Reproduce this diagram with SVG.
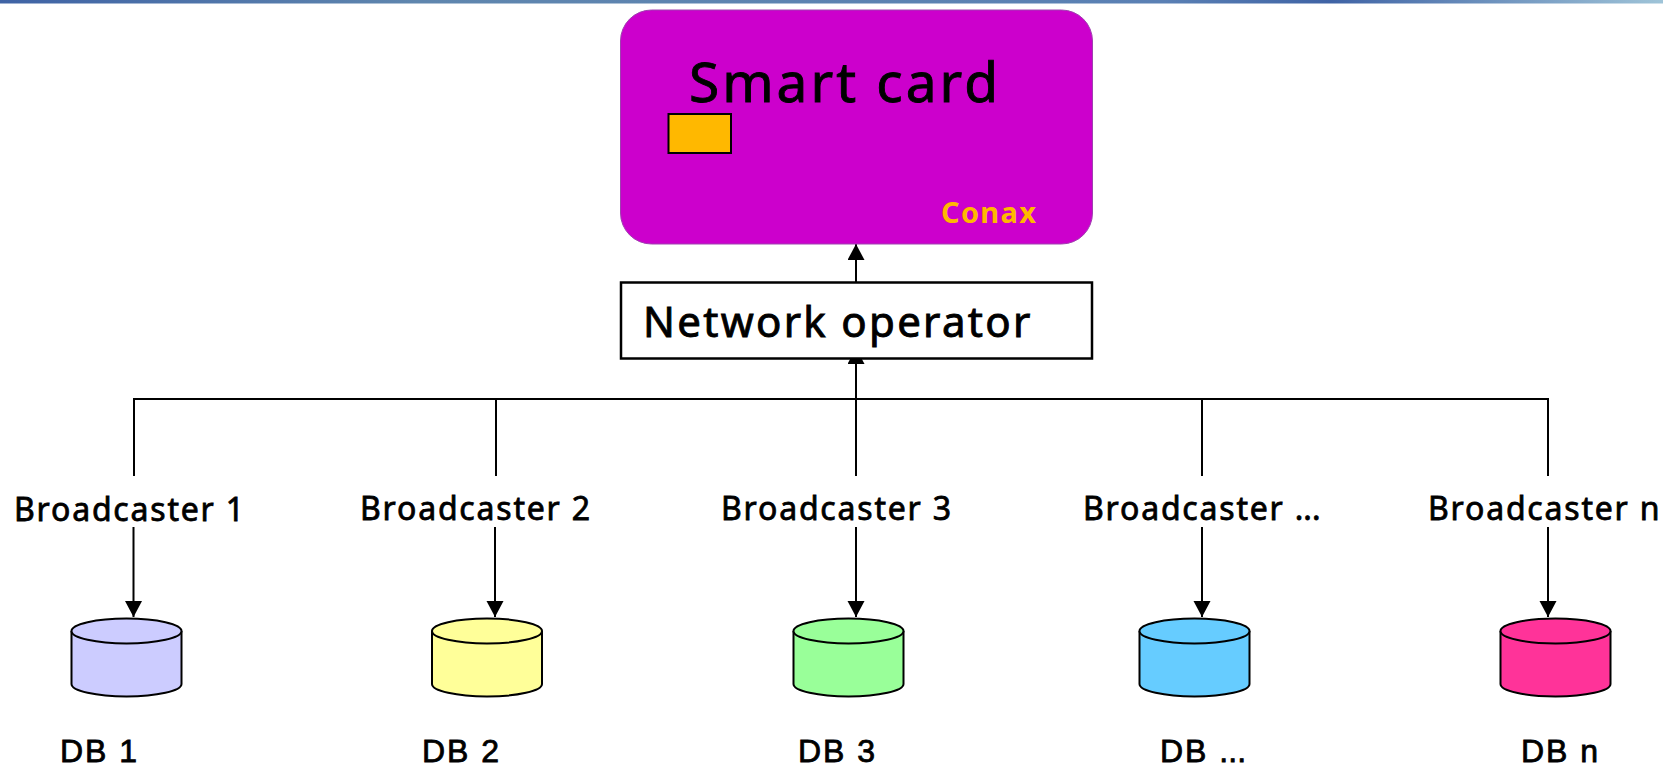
<svg xmlns="http://www.w3.org/2000/svg" width="1663" height="768" viewBox="0 0 1663 768">
<style>
text{font-family:"Noto Sans","DejaVu Sans",sans-serif;fill:#000}
.l{font-size:32px;letter-spacing:1.800px;stroke:#000;stroke-width:.8px}
.d{font-family:"Liberation Sans",Arial,sans-serif;font-size:32px;letter-spacing:2px;stroke:#000;stroke-width:.8px}
.c{fill:none;stroke:#000;stroke-width:2}
.db{stroke:#000;stroke-width:2}
.e{letter-spacing:0}
</style>
<defs>
<linearGradient id="band" x1="0" x2="1" y1="0" y2="0"><stop offset="0" stop-color="#3f63a5"/><stop offset=".25" stop-color="#5f86ae"/><stop offset=".7" stop-color="#5a80b4"/><stop offset=".8" stop-color="#3f63a5"/><stop offset="1" stop-color="#9fc4d8"/></linearGradient>
<marker id="a" markerUnits="userSpaceOnUse" markerWidth="18" markerHeight="18" refX="16" refY="8.500" orient="auto"><path d="M0 0L16 8.500L0 17z" fill="#000"/></marker>
<symbol id="cyl" overflow="visible"><path d="M0 12.500V65.500A55 12.500 0 0 0 110 65.500V12.500"/><ellipse cx="55" cy="12.500" rx="55" ry="12.500"/></symbol>
</defs>
<rect width="1663" height="768" fill="#fff"/>
<rect id="top-band" width="1663" height="3.500" fill="url(#band)"/>
<g id="connectors">
<path class="c" d="M134 476V399H1548V476M496 399V476M1202 399V476M856 399V476"/>
<path class="c" marker-end="url(#a)" d="M856 399V348"/>
<path class="c" marker-end="url(#a)" d="M856 283V244"/>
<path class="c" marker-end="url(#a)" d="M133.500 527V617"/>
<path class="c" marker-end="url(#a)" d="M495 527V617"/>
<path class="c" marker-end="url(#a)" d="M856 527V617"/>
<path class="c" marker-end="url(#a)" d="M1202 527V617"/>
<path class="c" marker-end="url(#a)" d="M1548 527V617"/>
</g>
<g id="smart-card">
<rect x="620.500" y="10" width="472" height="234" rx="31" fill="#cc00cc" stroke="#a040b0" stroke-width="1"/>
<text x="689" y="102" font-size="55" letter-spacing="3" style="stroke:#000;stroke-width:.9px">Smart card</text>
<rect x="668.500" y="114" width="62.500" height="39" fill="#ffb800" stroke="#000" stroke-width="2"/>
<text x="941" y="223" font-size="29" font-weight="700" letter-spacing="1.300" style="fill:#ffb800">Conax</text>
</g>
<g id="network-operator">
<rect x="621" y="282.500" width="471" height="76" fill="#fff" stroke="#000" stroke-width="2.500"/>
<text x="643" y="337" font-size="42" letter-spacing="2.300" style="stroke:#000;stroke-width:.9px">Network operator</text>
</g>
<g id="broadcaster-1"><text class="l" x="14" y="521">Broadcaster 1</text></g>
<g id="broadcaster-2"><text class="l" x="360" y="520">Broadcaster 2</text></g>
<g id="broadcaster-3"><text class="l" x="721" y="520">Broadcaster 3</text></g>
<g id="broadcaster-4"><text class="l" x="1083" y="520">Broadcaster <tspan class="e">...</tspan></text></g>
<g id="broadcaster-n"><text class="l" x="1428" y="520">Broadcaster n</text></g>
<g id="db-1"><use href="#cyl" x="71.500" y="618.500" class="db" fill="#ccccff"/><text class="d" x="60" y="761.500">DB 1</text></g>
<g id="db-2"><use href="#cyl" x="432" y="618.500" class="db" fill="#ffff99"/><text class="d" x="422" y="761.500">DB 2</text></g>
<g id="db-3"><use href="#cyl" x="793.500" y="618.500" class="db" fill="#99ff99"/><text class="d" x="798" y="761.500">DB 3</text></g>
<g id="db-4"><use href="#cyl" x="1139.500" y="618.500" class="db" fill="#66ccff"/><text class="d" x="1160" y="761.500">DB <tspan class="e">...</tspan></text></g>
<g id="db-n"><use href="#cyl" x="1500.500" y="618.500" class="db" fill="#ff3399"/><text class="d" x="1521" y="761.500">DB n</text></g>
</svg>
